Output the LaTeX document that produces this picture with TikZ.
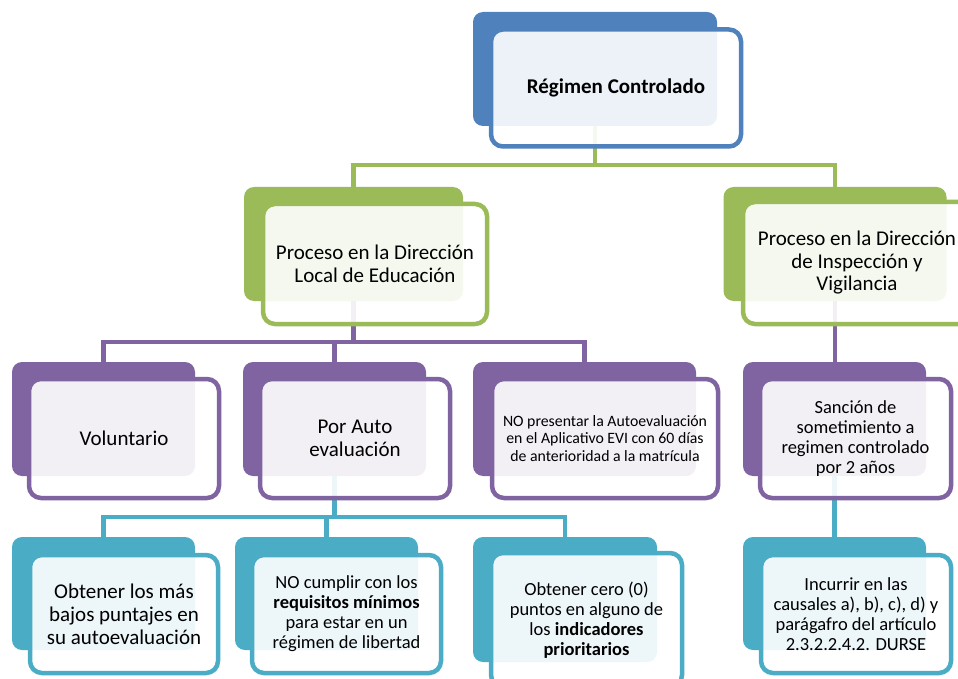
\documentclass[tikz,border=0pt]{standalone}
\usepackage{fontspec}
\setmainfont{Carlito}
\usepackage{xcolor}
\usetikzlibrary{positioning}
\definecolor{rcblue}{HTML}{4F81BD}
\definecolor{dlgreen}{HTML}{9BBB59}
\definecolor{prpurple}{HTML}{8064A2}
\definecolor{cacyan}{HTML}{4BACC6}
\tikzset{
    backbox/.style = {rectangle, rounded corners=10pt, inner sep=0pt, fill=#1},
    frontbox/.style = {rectangle, rounded corners=12pt, inner sep=0pt, align=center, draw=#1, line width=4.5pt, fill=white, fill opacity=0.9, text opacity=1},
    link/.style = {draw=#1, line width=4.5pt},
    bigtext/.style = {font=\fontsize{21}{22.5}\selectfont},
    midtext/.style = {font=\fontsize{18.5}{20}\selectfont},
    smalltext/.style = {font=\fontsize{15.8}{17.5}\selectfont}
}

\begin{document}
\begin{tikzpicture}[x=1pt, y=-1pt]
    \clip (0,0) rectangle (958,679);
    \fill[white] (0,0) rectangle (958,679);

    % back boxes
    \node [backbox=rcblue, minimum width=244pt, minimum height=114pt] (rcb) at (595,69) {};
    \node [backbox=dlgreen, minimum width=219pt, minimum height=114pt] (dlb) at (353.5,244) {};
    \node [backbox=dlgreen, minimum width=223pt, minimum height=114pt] (divb) at (835,244) {};
    \node [backbox=prpurple, minimum width=183pt, minimum height=114pt] (volb) at (103.5,419) {};
    \node [backbox=prpurple, minimum width=183pt, minimum height=114pt] (autob) at (334.5,419) {};
    \node [backbox=prpurple, minimum width=223pt, minimum height=114pt] (nopb) at (584.5,419) {};
    \node [backbox=prpurple, minimum width=183pt, minimum height=114pt] (sanb) at (834.5,419) {};
    \node [backbox=cacyan, minimum width=183pt, minimum height=113pt] (obtb) at (103.5,593.5) {};
    \node [backbox=cacyan, minimum width=183pt, minimum height=113pt] (reqb) at (326.5,593.5) {};
    \node [backbox=cacyan, minimum width=184pt, minimum height=125pt] (cerob) at (565,599.5) {};
    \node [backbox=cacyan, minimum width=183pt, minimum height=113pt] (incb) at (834.5,593.5) {};

    % connectors
    \coordinate (gbus) at (595,165);
    \draw [link=dlgreen] (rcb.south) -- (gbus) -| (dlb.north);
    \draw [link=dlgreen] (gbus) -| (divb.north);

    \coordinate (pbus) at (353.5,342);
    \draw [link=prpurple] (dlb.south) -- (pbus) -| (volb.north);
    \draw [link=prpurple] (pbus) -| (nopb.north);
    \draw [link=prpurple] (autob.north) -- (autob.north |- pbus);
    \draw [link=prpurple] (divb.south) -- (divb.south |- sanb.north);

    \coordinate (cbus) at (334.5,517);
    \draw [link=cacyan] (autob.south) -- (cbus) -| (obtb.north);
    \draw [link=cacyan] (cbus) -| (cerob.north);
    \draw [link=cacyan] (reqb.north) -- (reqb.north |- cbus);
    \draw [link=cacyan] (sanb.south) -- (sanb.south |- incb.north);

    % front boxes
    \node [frontbox=rcblue, bigtext, minimum width=250pt, minimum height=117pt] (rc)
        at ([shift={(21,19)}]rcb.center) {\textbf{Régimen Controlado}};
    \node [frontbox=dlgreen, bigtext, minimum width=224pt, minimum height=120pt] (dl)
        at ([shift={(21.5,20)}]dlb.center) {Proceso en la Dirección\\Local de Educación};
    \node [frontbox=dlgreen, bigtext, minimum width=228pt, minimum height=122pt] (div)
        at ([shift={(22,19)}]divb.center) {Proceso en la Dirección\\de Inspección y\\Vigilancia};
    \node [frontbox=prpurple, bigtext, minimum width=190pt, minimum height=119pt] (vol)
        at ([shift={(20.5,19.5)}]volb.center) {Voluntario};
    \node [frontbox=prpurple, bigtext, minimum width=190pt, minimum height=119pt] (auto)
        at ([shift={(20.5,19.5)}]autob.center) {Por Auto\\evaluación};
    \node [frontbox=prpurple, smalltext, minimum width=226pt, minimum height=119pt] (nop)
        at ([shift={(20.5,19.5)}]nopb.center) {NO presentar la Autoevaluación\\en el Aplicativo EVI con 60 días\\de anterioridad a la matrícula};
    \node [frontbox=prpurple, midtext, minimum width=191pt, minimum height=119pt] (san)
        at ([shift={(21,19.5)}]sanb.center) {Sanción de\\sometimiento a\\regimen controlado\\por 2 años};
    \node [frontbox=cacyan, font=\fontsize{21}{23}\selectfont, minimum width=188pt, minimum height=118pt] (obt)
        at ([shift={(20.5,20.5)}]obtb.center) {Obtener los más\\bajos puntajes en\\su autoevaluación};
    \node [frontbox=cacyan, midtext, minimum width=189pt, minimum height=118pt] (req)
        at ([shift={(20,20.5)}]reqb.center) {NO cumplir con los\\\textbf{requisitos mínimos}\\para estar en un\\régimen de libertad};
    \node [frontbox=cacyan, midtext, minimum width=191pt, minimum height=134pt] (cero)
        at ([shift={(21.5,20.5)}]cerob.center) {Obtener cero (0)\\puntos en alguno de\\los \textbf{indicadores}\\\textbf{prioritarios}};
    \node [frontbox=cacyan, midtext, minimum width=190pt, minimum height=118pt] (inc)
        at ([shift={(21.5,20.5)}]incb.center) {Incurrir en las\\causales a), b), c), d) y\\parágafro del artículo\\2.3.2.2.4.2. DURSE};
\end{tikzpicture}
\end{document}
